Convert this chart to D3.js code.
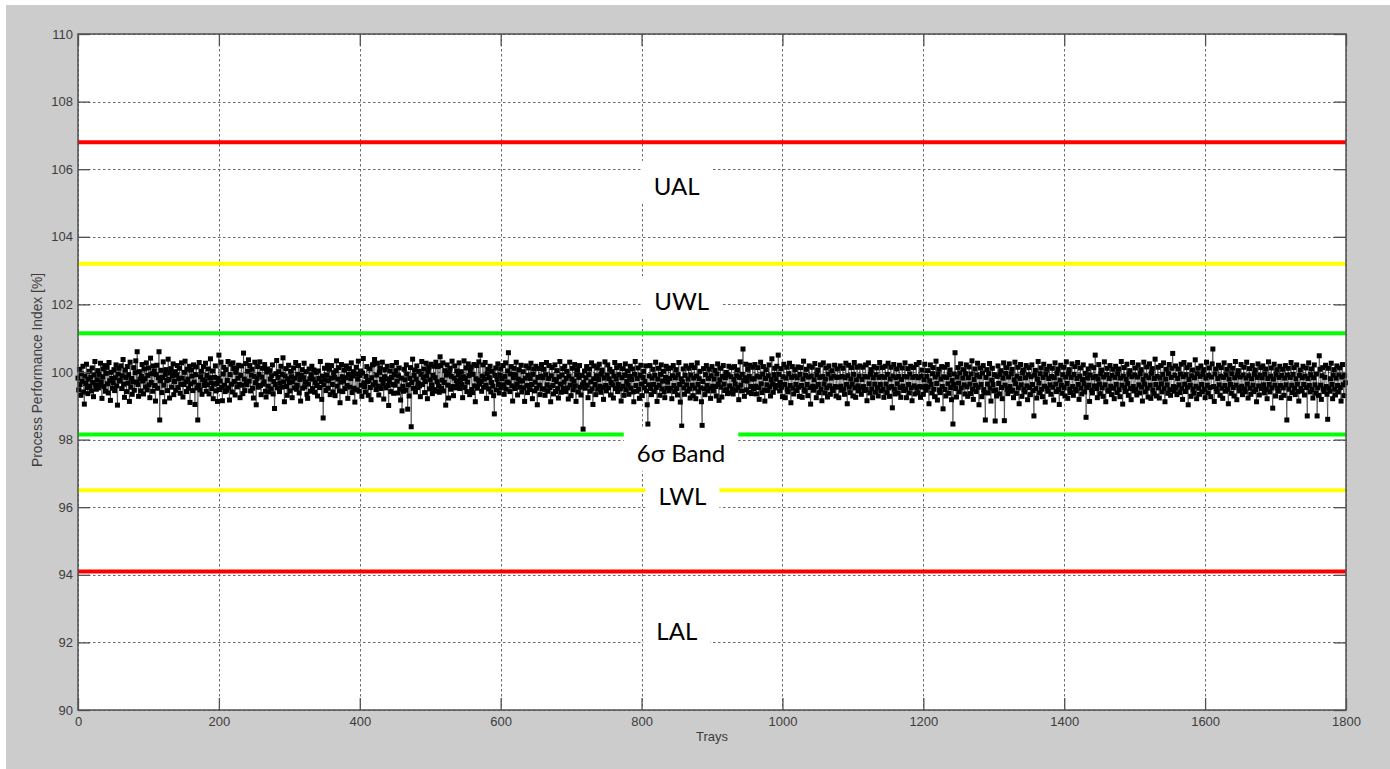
<!DOCTYPE html>
<html>
<head>
<meta charset="utf-8">
<script src="https://cdn.jsdelivr.net/npm/d3@7"></script>
<style>
  html, body { margin: 0; padding: 0; background: #ffffff; }
  svg { display: block; }
</style>
</head>
<body>
<svg id="chart" width="1390" height="769"></svg>
<script>
// ---------------- DATA ----------------
// Process performance index [%], one value per tray 0..1799
const perfValues = [
99.82,99.47,100.08,99.63,99.31,99.95,99.72,100.17,99.41,99.05,99.88,99.66,100.23,99.54,99.36,99.79,100.02,99.58,99.85,99.44,100.12,99.69,99.27,99.91,100.31,99.62,99.49,99.77,100.04,99.53,
99.93,99.61,100.26,99.71,99.22,99.86,100.09,99.57,100.19,99.43,99.96,100.14,99.65,99.38,100.28,99.74,99.16,99.99,99.81,99.52,99.68,100.07,99.45,99.83,100.21,99.59,99.02,99.94,100.11,99.73,
99.76,100.18,99.51,99.89,100.37,99.64,99.25,100.06,99.84,99.42,100.16,99.67,99.92,99.13,100.29,99.55,99.81,99.34,99.71,100.13,99.46,99.98,100.33,99.70,100.60,99.63,99.28,100.01,99.79,99.44,
99.87,100.22,99.73,99.35,100.09,99.80,99.56,100.27,99.47,99.90,100.12,99.62,99.24,100.41,99.69,99.95,99.43,100.18,100.03,99.60,99.14,99.92,100.20,99.52,99.83,100.60,98.58,99.74,100.05,99.39,
99.84,100.30,99.61,99.12,99.93,100.07,99.75,99.45,100.38,99.78,99.23,99.97,100.10,99.55,99.88,100.24,99.33,99.72,100.01,99.46,99.91,100.19,99.54,99.80,100.11,99.37,99.64,100.27,99.82,99.26,
99.63,99.99,100.32,99.71,99.42,100.08,99.79,99.52,100.17,99.10,99.65,100.06,99.88,99.45,100.21,99.70,99.04,99.92,100.15,99.53,98.58,99.61,100.28,99.47,99.86,100.02,99.34,99.77,100.16,99.60,
99.74,100.26,99.43,99.90,99.62,100.09,99.35,99.83,100.39,99.68,99.51,100.03,99.21,99.64,99.84,100.18,99.44,99.66,99.13,99.81,100.50,99.48,99.73,100.29,99.55,99.15,99.94,100.14,99.61,99.42,
100.07,99.46,99.75,100.31,99.53,99.17,99.92,100.23,99.64,99.41,100.27,100.10,99.72,99.32,99.99,100.12,99.56,99.82,100.20,99.63,99.24,99.90,100.18,99.61,99.36,100.56,99.79,99.45,100.25,99.70,
99.62,100.02,100.36,99.73,100.19,99.44,99.91,100.08,99.52,99.23,99.87,100.29,99.68,99.03,99.81,100.16,99.55,99.93,100.30,99.60,99.33,99.85,100.11,99.64,99.71,100.22,99.43,99.26,100.00,100.09,
99.58,99.41,100.04,99.79,99.50,99.89,100.21,99.35,99.72,98.92,99.63,99.95,100.34,99.53,99.84,100.01,99.42,99.68,100.17,99.55,99.93,100.42,99.71,99.12,99.88,100.10,99.57,99.31,99.80,100.20,
99.69,99.44,100.02,99.86,99.24,99.71,100.12,99.53,99.82,100.28,99.49,99.61,99.93,100.19,99.38,99.78,99.14,99.90,100.07,99.52,99.83,100.26,99.56,99.70,100.01,99.34,99.22,99.64,100.09,99.80,
99.43,99.92,100.17,99.51,99.79,100.06,99.40,99.68,99.99,99.60,99.29,100.03,99.81,99.54,100.31,99.72,99.19,99.88,98.64,99.62,100.11,99.77,99.45,99.91,100.20,99.52,99.74,100.08,99.33,99.82,
100.19,99.63,99.41,99.98,99.84,99.30,100.04,100.33,99.58,99.79,100.13,99.44,99.09,99.70,100.22,99.86,99.42,99.73,100.06,99.51,99.83,100.18,99.60,99.22,99.93,100.10,99.55,99.81,100.27,99.39,
99.88,100.01,99.52,99.11,99.94,100.14,99.47,99.79,100.32,99.43,99.90,100.03,99.61,99.28,99.97,100.40,99.68,99.57,99.41,99.87,100.16,99.72,99.31,99.75,100.09,99.54,99.18,99.83,100.21,99.62,
100.23,100.37,99.69,99.48,99.91,100.26,99.58,99.32,99.99,100.12,99.51,99.78,100.29,99.66,99.20,99.86,100.07,99.53,99.80,100.17,99.60,99.01,99.71,100.03,99.42,99.84,100.19,99.63,99.37,99.92,
99.61,100.04,100.28,99.73,99.38,99.89,100.12,99.49,99.17,99.82,98.85,99.58,99.43,100.08,99.77,99.46,100.21,99.94,98.90,99.62,99.29,99.81,100.13,98.38,99.69,100.38,99.52,99.90,100.06,99.41,
99.79,100.18,99.54,99.67,100.02,99.59,99.27,99.93,100.31,99.63,99.84,100.09,99.39,99.72,100.26,99.88,99.21,100.01,100.14,99.50,99.77,100.23,99.62,99.36,99.90,100.17,99.48,99.83,100.29,99.43,
99.71,100.16,99.58,99.40,100.45,100.19,99.52,99.76,100.27,99.44,99.69,100.04,99.02,99.91,100.21,99.61,99.23,99.98,100.11,99.49,99.87,100.32,99.57,99.30,99.82,100.18,99.53,99.74,100.03,99.64,
99.92,100.27,99.51,99.78,100.01,99.63,99.24,99.86,100.33,99.54,99.81,100.12,99.42,99.70,100.24,99.89,99.33,100.02,100.15,99.48,99.39,99.93,100.22,99.59,99.12,99.80,100.19,99.52,99.76,100.30,
99.64,100.50,99.72,99.43,99.88,100.21,99.55,99.79,100.28,99.61,99.22,99.94,100.08,99.50,99.83,100.17,99.41,99.69,100.02,99.58,99.30,98.76,99.90,100.12,99.47,99.78,100.24,99.63,99.38,99.91,
100.09,99.53,99.80,100.19,99.62,99.34,99.87,100.27,99.49,99.71,100.03,100.57,99.68,99.42,99.94,100.16,99.59,99.14,99.83,100.11,99.51,99.92,100.29,99.64,99.32,99.79,100.07,99.55,99.73,100.20,
99.41,99.74,100.01,99.53,99.13,99.82,100.18,99.60,99.39,99.90,100.12,99.48,99.81,100.26,99.63,99.21,99.93,100.09,99.44,99.70,100.17,99.52,99.03,99.84,100.10,99.61,99.33,99.88,100.22,99.50,
99.83,100.08,99.49,99.31,99.92,100.28,99.62,99.43,99.81,100.19,99.54,99.12,99.89,100.13,99.60,99.35,99.78,100.21,99.42,99.72,100.04,99.51,99.23,99.86,100.31,99.64,99.40,99.91,100.10,99.52,
99.70,100.17,99.42,99.81,100.02,99.53,99.20,99.88,100.29,99.61,99.30,99.79,100.11,99.47,99.73,100.22,99.59,99.13,99.92,100.07,99.41,99.84,100.19,99.55,99.32,99.90,99.62,98.31,99.69,100.03,
99.52,99.83,100.16,99.61,99.24,99.92,100.09,99.43,99.71,100.27,99.50,99.04,99.80,100.18,99.63,99.33,99.89,100.12,99.49,99.78,100.23,99.58,99.40,99.93,100.06,99.54,99.19,99.82,100.30,99.60,
99.44,99.91,100.21,99.53,99.80,100.08,99.32,99.69,100.01,99.62,99.23,99.88,100.28,99.51,99.79,100.13,99.42,99.63,99.92,100.19,99.50,99.14,99.83,100.10,99.58,99.31,99.90,100.24,99.47,99.72,
100.03,99.61,99.34,99.87,100.17,99.52,99.78,100.09,99.41,99.12,99.93,100.31,99.60,99.43,99.81,100.12,99.49,99.22,99.90,100.20,99.64,99.30,99.84,100.02,99.53,99.72,100.18,99.44,99.03,98.46,
99.62,99.88,100.19,99.51,99.33,99.82,100.08,99.63,99.42,99.90,100.29,99.54,99.13,99.79,100.11,99.61,99.31,99.93,100.21,99.50,99.73,100.02,99.41,99.24,99.84,100.17,99.52,99.70,100.10,99.44,
99.81,100.12,99.52,99.21,99.89,100.19,99.60,99.42,99.83,100.07,99.51,99.32,99.92,100.28,99.63,99.11,99.80,98.40,99.71,100.09,99.53,99.34,99.90,100.18,99.62,99.43,99.79,100.11,99.50,99.23,
99.91,100.20,99.61,99.30,99.82,100.13,99.52,99.21,99.88,100.27,99.63,99.41,99.80,100.02,99.53,99.12,98.42,99.72,100.10,99.50,99.33,99.92,100.19,99.60,99.44,99.81,100.08,99.52,99.22,99.89,
100.16,99.58,99.44,99.79,100.05,99.57,99.29,99.94,100.24,99.63,99.16,99.77,100.11,99.55,99.26,99.87,100.19,99.64,99.45,99.83,99.99,99.48,99.36,99.91,100.17,99.59,99.38,99.86,100.13,99.50,
99.35,99.78,100.16,99.64,99.46,99.89,100.06,99.54,99.18,99.84,100.30,99.61,99.44,99.93,100.68,99.75,99.28,99.83,100.23,99.47,99.73,100.08,99.40,99.87,100.20,99.57,99.36,99.79,100.14,99.51,
99.80,100.22,99.58,99.35,99.88,100.13,99.54,99.19,99.85,100.29,99.65,99.39,99.94,100.16,99.47,99.14,99.81,100.07,99.62,99.45,99.89,100.21,99.56,99.29,99.78,100.39,99.64,99.40,99.92,100.11,
99.53,99.79,100.17,99.60,100.50,99.93,99.44,99.69,100.10,99.55,99.27,99.86,100.23,99.63,99.24,99.82,100.14,99.49,99.41,99.95,100.26,99.60,99.09,99.84,100.16,99.52,99.35,99.88,100.07,99.63,
99.45,99.83,100.15,99.55,99.28,99.93,100.13,99.60,99.25,99.79,100.32,99.48,99.43,99.90,100.08,99.63,99.30,99.85,100.18,99.54,99.05,99.88,100.14,99.58,99.46,99.77,100.25,99.56,99.24,99.92,
100.06,99.63,99.39,99.84,100.21,99.49,99.15,99.87,100.27,99.64,99.38,99.79,100.12,99.53,99.26,99.94,100.18,99.59,99.34,99.82,100.04,99.50,99.45,99.88,100.20,99.57,99.29,99.84,100.09,99.55,
99.24,99.85,100.18,99.58,99.46,99.87,100.11,99.49,99.34,99.83,100.26,99.63,99.06,99.89,100.20,99.55,99.39,99.79,100.13,99.64,99.29,99.93,100.28,99.53,99.25,99.77,100.14,99.59,99.44,99.88,
100.18,99.55,99.34,99.78,100.14,99.57,99.45,99.87,100.21,99.48,99.15,99.85,100.27,99.65,99.38,99.93,100.07,99.50,99.24,99.83,100.16,99.64,99.40,99.92,100.12,99.53,99.29,99.84,100.28,99.63,
99.44,99.87,100.13,99.49,99.25,99.84,100.17,99.64,99.39,99.93,100.26,99.53,99.28,99.79,100.14,99.57,98.94,99.88,100.22,99.49,99.35,99.83,100.09,99.65,99.38,99.87,100.20,99.54,99.25,99.78,
100.12,99.58,99.45,99.87,100.27,99.49,99.24,99.85,100.10,99.63,99.38,99.94,100.17,99.53,99.15,99.84,100.13,99.59,99.35,99.87,100.22,99.54,99.39,99.83,100.28,99.57,99.25,99.88,100.06,99.55,
99.34,99.77,100.23,99.58,99.46,99.87,100.04,99.55,99.06,99.74,100.21,99.63,99.38,99.95,100.13,99.49,99.27,99.85,100.32,99.66,99.17,99.93,100.08,99.47,99.39,99.79,100.16,99.57,98.91,99.86,
100.14,99.48,99.29,99.84,100.22,99.65,99.37,99.92,100.06,99.54,99.18,99.76,98.46,99.63,99.94,100.57,99.51,99.26,99.85,100.13,99.67,99.41,99.97,100.24,99.53,99.09,99.82,100.07,99.62,99.35,
99.95,100.21,99.56,99.28,99.83,100.15,99.64,99.36,99.94,100.33,99.49,99.19,99.78,100.09,99.61,99.42,99.91,100.26,99.55,99.03,99.86,100.12,99.63,99.27,99.97,100.19,99.48,99.39,98.58,99.84,
100.07,99.64,99.38,99.95,100.25,99.52,99.14,99.76,100.11,99.63,99.44,99.92,98.55,99.47,99.29,99.87,100.18,99.66,99.35,99.93,100.04,99.54,99.21,99.82,100.27,98.56,99.61,99.96,100.13,99.49,
99.36,99.85,100.24,99.57,99.43,99.94,100.08,99.46,99.24,99.77,100.29,99.65,99.37,99.88,100.14,99.53,99.06,99.81,100.22,99.62,99.28,99.97,100.06,99.48,99.41,99.83,100.19,99.59,99.18,99.92,
100.13,99.54,99.33,99.86,100.21,99.63,99.45,98.70,99.91,100.05,99.51,99.23,99.79,100.31,99.67,99.38,99.95,100.12,99.49,99.27,99.84,100.23,99.58,99.11,99.93,100.08,99.52,99.43,99.81,100.17,
99.62,99.34,99.87,100.11,99.55,99.17,99.83,100.27,99.64,99.42,99.96,100.09,99.48,99.04,99.76,100.20,99.61,99.37,99.92,100.14,99.53,99.29,99.85,100.30,99.66,99.22,99.94,100.07,99.50,99.39,
99.84,100.24,99.57,99.31,99.93,100.16,99.49,99.44,99.81,100.28,99.63,99.19,99.88,100.12,99.52,99.35,99.78,100.21,99.65,99.41,99.96,98.66,99.54,99.82,100.09,99.61,99.13,99.91,100.18,99.47,
99.38,99.83,100.13,99.59,100.50,99.87,99.51,99.24,99.79,100.22,99.64,99.36,99.94,100.06,99.53,99.28,99.85,100.30,99.62,99.12,99.92,100.11,99.47,99.43,99.81,100.19,99.58,99.33,99.90,100.08,
99.52,99.21,99.84,100.17,99.63,99.39,99.95,100.09,99.48,99.27,99.82,100.31,99.61,99.05,99.88,100.13,99.54,99.42,99.79,100.23,99.66,99.31,99.93,100.04,99.51,99.18,99.86,100.28,99.57,99.44,
99.91,100.12,99.49,99.32,99.85,100.21,99.62,99.38,99.94,100.07,99.55,99.14,99.78,100.29,99.64,99.41,99.89,100.15,99.52,99.26,99.83,100.24,99.61,99.22,99.96,100.10,99.47,99.36,99.81,100.38,
99.63,99.29,99.87,100.14,99.53,99.23,99.82,100.19,99.65,99.41,99.93,100.27,99.51,99.12,99.79,100.08,99.62,99.37,99.95,100.22,99.48,99.31,99.84,100.11,100.55,99.57,99.43,99.90,100.18,99.54,
99.33,99.81,100.09,99.62,99.39,99.94,100.23,99.51,99.19,99.86,100.28,99.64,99.42,99.92,100.13,99.55,99.03,99.78,100.21,99.61,99.28,99.89,100.06,99.49,99.37,99.83,100.36,99.58,99.21,99.95,
100.11,99.52,99.34,99.87,100.18,99.63,99.41,99.93,100.07,99.49,99.24,99.82,100.29,99.61,99.38,99.90,100.12,99.54,99.27,99.85,100.24,100.68,99.57,99.13,99.94,100.09,99.51,99.42,99.81,100.20,
99.62,99.31,99.88,100.13,99.52,99.22,99.84,100.27,99.60,99.43,99.92,100.08,99.49,99.06,99.79,100.19,99.63,99.37,99.95,100.11,99.54,99.29,99.83,100.31,99.61,99.18,99.90,100.04,99.53,99.44,
99.85,100.22,99.58,99.33,99.91,100.14,99.50,99.41,99.82,100.29,99.64,99.23,99.89,100.10,99.52,99.34,99.80,100.19,99.61,99.42,99.93,100.06,99.48,99.12,99.84,100.24,99.59,99.32,99.90,100.13,
99.51,99.83,100.18,99.62,99.38,99.94,100.09,99.49,99.21,99.81,100.30,99.63,99.41,99.88,100.12,99.53,98.93,99.79,100.23,99.61,99.29,99.92,100.07,99.52,99.43,99.84,100.17,99.60,99.24,99.90,
100.08,99.53,99.31,99.82,100.19,99.62,98.58,99.91,100.11,99.49,99.22,99.84,100.28,99.61,99.39,99.93,100.13,99.52,99.33,99.80,100.21,99.64,99.42,99.14,99.90,100.06,99.51,99.44,99.83,100.17,
99.63,99.32,99.88,100.12,99.54,98.70,99.81,100.27,99.60,99.41,99.92,100.09,99.48,99.23,99.83,100.21,99.62,99.37,99.94,98.70,99.53,99.31,100.48,100.08,99.61,99.19,99.89,100.13,99.50,99.42,
99.84,100.20,99.57,99.34,98.60,100.11,99.52,99.43,99.80,100.26,99.63,99.21,99.91,100.07,99.49,99.32,99.82,100.18,99.60,99.41,99.93,100.12,99.54,99.14,99.85,100.22,99.62,99.30,99.90,99.68
];
const trays = perfValues.map((v, i) => i);

// limit lines
const limitNames  = ["UAL", "UWL", "6σ upper", "6σ lower", "LWL", "LAL"];
const limitValues = [106.8, 103.2, 101.15, 98.15, 96.5, 94.1];
const limitColors = ["#ff0000", "#ffff00", "#00ff00", "#00ff00", "#ffff00", "#ff0000"];

// annotation labels (text, tray of centre, value at baseline)
const labelTexts  = ["UAL", "UWL", "6σ Band", "LWL", "LAL"];
const labelTrays  = [850, 857, 856, 858, 850];
const labelValues = [105.24, 101.83, 97.34, 96.07, 92.07];

// axes
const xTicks = [0, 200, 400, 600, 800, 1000, 1200, 1400, 1600, 1800];
const yTicks = [90, 92, 94, 96, 98, 100, 102, 104, 106, 108, 110];
const xDomain = [0, 1800];
const yDomain = [90, 110];
const xTitle = "Trays";
const yTitle = "Process Performance Index [%]";

// ---------------- DRAW ----------------
const svg = d3.select("#chart");
const W = 1390, H = 769;
const plot = { left: 78, top: 34, right: 1346, bottom: 710 };

svg.append("rect").attr("x", 0).attr("y", 0).attr("width", W).attr("height", H).attr("fill", "#ffffff");
svg.append("rect").attr("x", 6).attr("y", 5).attr("width", W - 6).attr("height", H - 5).attr("fill", "#cccccc");

const x = d3.scaleLinear().domain(xDomain).range([plot.left, plot.right]);
const y = d3.scaleLinear().domain(yDomain).range([plot.bottom, plot.top]);

svg.append("rect")
  .attr("x", plot.left).attr("y", plot.top)
  .attr("width", plot.right - plot.left).attr("height", plot.bottom - plot.top)
  .attr("fill", "#ffffff");

// grid
const grid = svg.append("g").attr("stroke", "#6a6a6a").attr("stroke-width", 1).attr("stroke-dasharray", "2.5,2.5");
grid.selectAll("line.gx").data(xTicks).join("line").attr("class", "gx")
  .attr("x1", d => Math.round(x(d)) + 0.5).attr("x2", d => Math.round(x(d)) + 0.5)
  .attr("y1", plot.top).attr("y2", plot.bottom);
grid.selectAll("line.gy").data(yTicks).join("line").attr("class", "gy")
  .attr("y1", d => Math.round(y(d)) + 0.5).attr("y2", d => Math.round(y(d)) + 0.5)
  .attr("x1", plot.left).attr("x2", plot.right);

// limit lines
svg.append("g").selectAll("line").data(limitValues).join("line")
  .attr("x1", plot.left).attr("x2", plot.right)
  .attr("y1", d => y(d)).attr("y2", d => y(d))
  .attr("stroke", (d, i) => limitColors[i]).attr("stroke-width", 4);

// data line + markers
const pts = perfValues.map((v, i) => [trays[i], v]);
svg.append("path").datum(pts)
  .attr("fill", "none").attr("stroke", "#222222").attr("stroke-width", 0.6)
  .attr("d", d3.line().x(d => x(d[0])).y(d => y(d[1])));
const ms = 5;
svg.append("g").selectAll("rect").data(pts).join("rect")
  .attr("x", d => x(d[0]) - ms / 2).attr("y", d => y(d[1]) - ms / 2)
  .attr("width", ms).attr("height", ms)
  .attr("fill", "#000000");

// annotation labels with white background
const lblG = svg.append("g");
labelTexts.forEach((t, i) => {
  const g = lblG.append("g");
  const bg = g.append("rect").attr("fill", "#ffffff");
  const tx = g.append("text")
    .attr("x", x(labelTrays[i])).attr("y", y(labelValues[i]))
    .attr("text-anchor", "middle")
    .attr("font-family", "Lato, 'Open Sans', sans-serif")
    .attr("font-size", 24).attr("fill", "#000000")
    .text(t);
  const bb = tx.node().getBBox();
  const base = y(labelValues[i]);
  bg.attr("x", bb.x - 13).attr("width", bb.width + 26)
    .attr("y", base - 34).attr("height", 43);
});

// axes (inward ticks, all four sides)
const fontAxis = "'Liberation Sans', Arial, sans-serif";
const axL = d3.axisLeft(y).tickValues(yTicks).tickSizeInner(-12).tickSizeOuter(0).tickPadding(5).tickFormat(d3.format("d"));
const axB = d3.axisBottom(x).tickValues(xTicks).tickSizeInner(-12).tickSizeOuter(0).tickPadding(7).tickFormat(d3.format("d"));
const axR = d3.axisRight(y).tickValues(yTicks).tickSizeInner(-12).tickSizeOuter(0).tickFormat("");
const axT = d3.axisTop(x).tickValues(xTicks).tickSizeInner(-12).tickSizeOuter(0).tickFormat("");

function styleAxis(g) {
  g.select(".domain").remove();
  g.selectAll(".tick line").attr("stroke", "#505050").attr("stroke-width", 1.3);
  g.selectAll(".tick text").attr("fill", "#3c3c3c").attr("font-family", fontAxis).attr("font-size", 13);
}
svg.append("g").attr("transform", `translate(${plot.left},0)`).call(axL).call(styleAxis);
svg.append("g").attr("transform", `translate(0,${plot.bottom})`).call(axB).call(styleAxis);
svg.append("g").attr("transform", `translate(${plot.right},0)`).call(axR).call(styleAxis);
svg.append("g").attr("transform", `translate(0,${plot.top})`).call(axT).call(styleAxis);

// box
svg.append("rect")
  .attr("x", plot.left).attr("y", plot.top)
  .attr("width", plot.right - plot.left).attr("height", plot.bottom - plot.top)
  .attr("fill", "none").attr("stroke", "#505050").attr("stroke-width", 1.5);

// titles
svg.append("text")
  .attr("x", (plot.left + plot.right) / 2).attr("y", 741)
  .attr("text-anchor", "middle")
  .attr("font-family", fontAxis).attr("font-size", 13).attr("fill", "#3c3c3c")
  .text(xTitle);
svg.append("text")
  .attr("transform", "translate(42,370) rotate(-90)")
  .attr("text-anchor", "middle")
  .attr("font-family", fontAxis).attr("font-size", 13.8).attr("fill", "#3c3c3c")
  .text(yTitle);
</script>
</body>
</html>
